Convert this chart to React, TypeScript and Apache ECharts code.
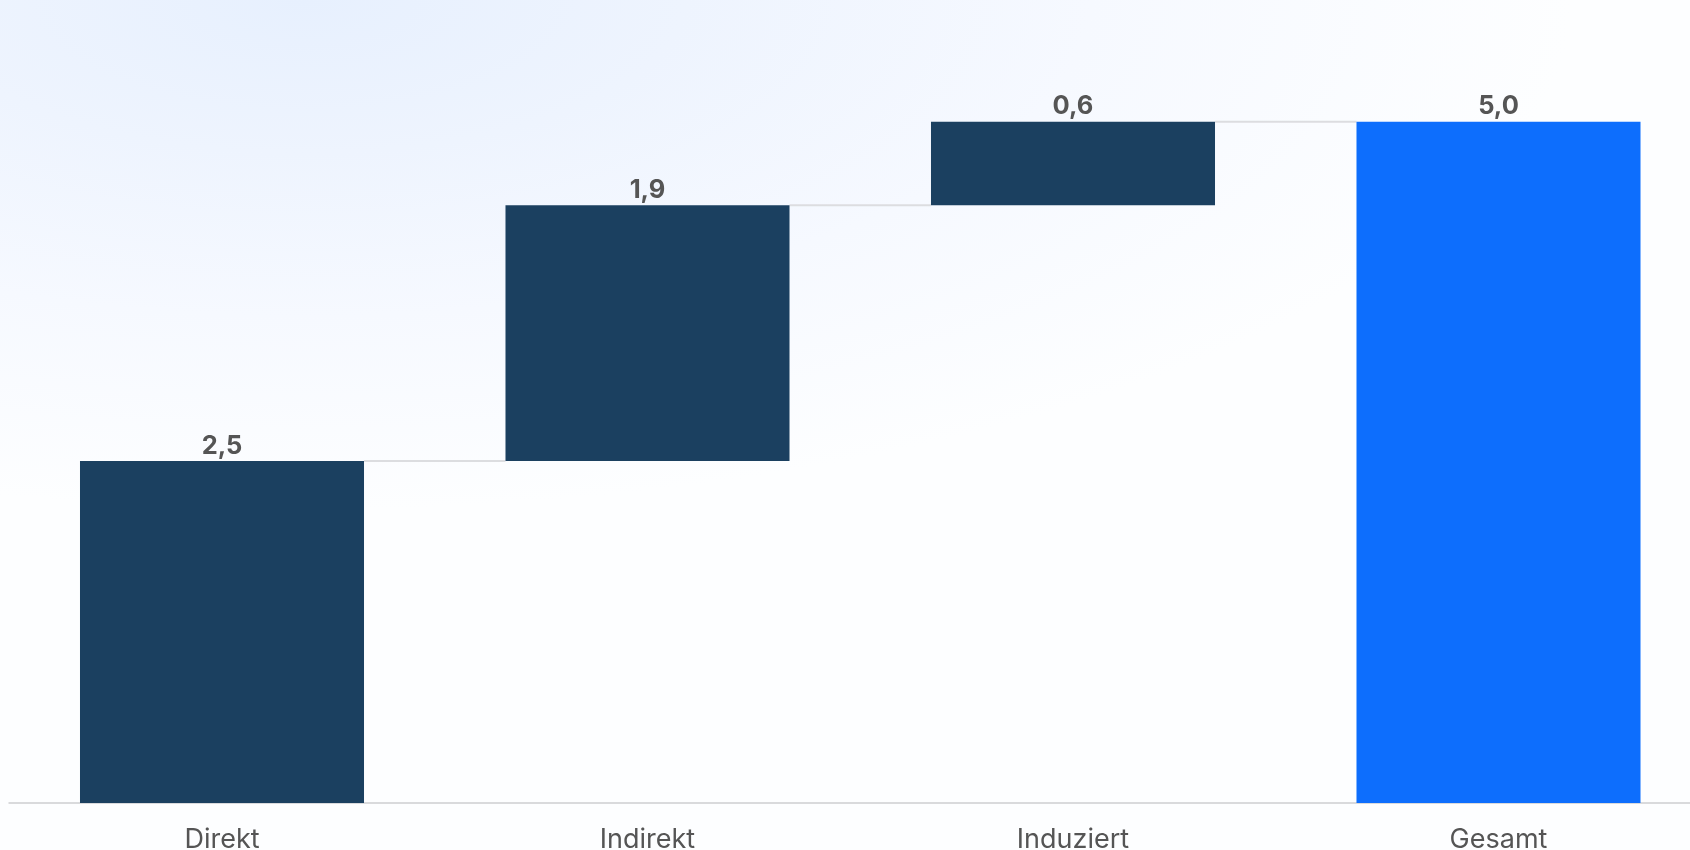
import React, { useEffect, useRef } from "react";
import * as echarts from "echarts";

const categories = ["Direkt", "Indirekt", "Induziert", "Gesamt"];
const values = [2.5, 1.87, 0.61, 4.98];
const isTotal = [false, false, false, true];

const BAR_RATIO = 0.6675;

function buildSeriesData() {
  const base: number[] = [];
  const connectors: [number, number][] = [];
  let running = 0;
  values.forEach((v, i) => {
    if (isTotal[i]) {
      base.push(0);
    } else {
      base.push(running);
      running += v;
    }
    if (i < values.length - 1) {
      const top = isTotal[i] ? v : running;
      connectors.push([i, top]);
    }
  });
  return { base, connectors };
}

export default function App() {
  const ref = useRef<HTMLDivElement>(null);
  useEffect(() => {
    if (!ref.current) return;
    const chart = echarts.init(ref.current, undefined, { renderer: "svg" });
    const { base, connectors } = buildSeriesData();
    const fmt = (v: number) => v.toFixed(1).replace(".", ",");
    chart.setOption({
      animation: false,
      grid: {
        left: 9.25,
        width: 1702,
        top: 9.56,
        bottom: 47,
        containLabel: false,
        outerBoundsMode: "none",
      },
      xAxis: {
        type: "category",
        data: categories,
        axisLine: { show: true, lineStyle: { color: "#d9dadc", width: 2 } },
        axisTick: { show: false },
        axisLabel: {
          color: "#555555",
          fontFamily: "Inter",
          fontSize: 27,
          lineHeight: 20,
          margin: 25.5,
        },
        z: 1,
      },
      yAxis: {
        type: "value",
        min: 0,
        max: 5.8,
        show: false,
        splitLine: { show: false },
      },
      series: [
        {
          type: "bar",
          stack: "w",
          data: base,
          barWidth: (BAR_RATIO * 100).toFixed(2) + "%",
          itemStyle: { color: "transparent" },
          silent: true,
        },
        {
          type: "bar",
          stack: "w",
          data: values.map((v, i) => ({
            value: v,
            itemStyle: { color: isTotal[i] ? "#0d6efd" : "#1b4060" },
          })),
          barWidth: (BAR_RATIO * 100).toFixed(2) + "%",
          label: {
            show: true,
            position: "top",
            distance: 4,
            color: "#555555",
            fontFamily: "Inter",
            fontWeight: "bold",
            fontSize: 25.5,
            formatter: (p: any) => fmt(p.value),
          },
          z: 3,
        },
        {
          type: "custom",
          data: connectors,
          z: 2,
          renderItem: (params: any, api: any) => {
            const idx = api.value(0);
            const level = api.value(1);
            const p0 = api.coord([idx, level]);
            const p1 = api.coord([idx + 1, level]);
            const band = api.size([1, 0])[0];
            const half = (band * BAR_RATIO) / 2;
            return {
              type: "line",
              shape: { x1: p0[0] + half, y1: p0[1], x2: p1[0] - half, y2: p1[1] },
              style: { stroke: "#dcdde0", lineWidth: 2 },
            };
          },
        },
      ],
    });
    return () => chart.dispose();
  }, []);
  return (
    <div
      style={{
        position: "fixed",
        left: 0,
        top: 0,
        width: 1690,
        height: 850,
        overflow: "hidden",
        background:
          "radial-gradient(ellipse 75% 60% at 18% 0%, #e7f0fe 0%, #eef4fe 30%, #f6f9ff 62%, rgba(253,254,255,1) 100%)",
      }}
    >
      <div ref={ref} style={{ width: 1690, height: 850 }} />
    </div>
  );
}
